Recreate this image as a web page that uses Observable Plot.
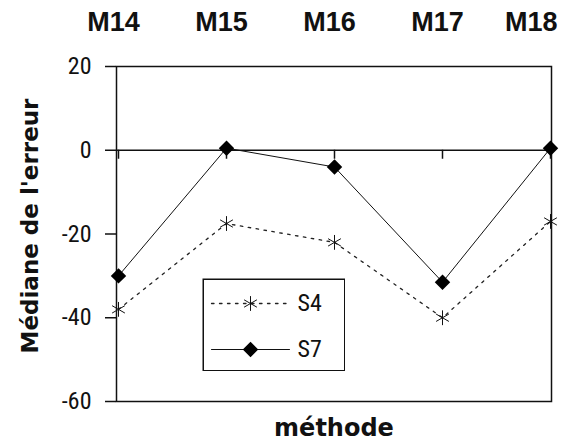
<!DOCTYPE html>
<html><head><meta charset="utf-8">
<script src="https://cdn.jsdelivr.net/npm/d3@7"></script>
<script src="https://cdn.jsdelivr.net/npm/@observablehq/plot@0.6"></script>
<style>
body{margin:0;background:#fff;}
#wrap{position:relative;width:564px;height:446px;overflow:hidden;background:#fff;}
#legend{position:absolute;left:202px;top:278px;}
svg{display:block;}
</style></head><body><div id="wrap"></div>
<script>
const methods = ["M14", "M15", "M16", "M17", "M18"];
const s4 = [-38, -17.5, -22, -40, -17];
const s7 = [-30, 0.5, -4, -31.5, 0.5];
const yTicks = [20, 0, -20, -40, -60];
const seriesNames = ["S4", "S7"];
const yTitle = "Médiane de l'erreur";
const xTitle = "méthode";

const rowsS4 = methods.map((m, i) => ({m, v: s4[i], s: "S4"}));
const rowsS7 = methods.map((m, i) => ({m, v: s7[i], s: "S7"}));

const narrow = "'Liberation Sans Narrow','Arial Narrow','Roboto Condensed','Liberation Sans',Arial,sans-serif";
const bold = "'Liberation Sans',Arial,sans-serif";
const wrap = document.getElementById("wrap");

const main = Plot.plot({
  width: 564, height: 446,
  marginTop: 66, marginBottom: 45, marginLeft: 116, marginRight: 13,
  style: {fontFamily: narrow, background: "#fff", color: "#111"},
  x: {type: "point", domain: methods, padding: 0, axis: null},
  y: {domain: [-60, 20], axis: null},
  marks: [
    Plot.axisY({ticks: yTicks, tickSize: 11, tickPadding: 14, label: null, fontSize: 24, strokeWidth: 1.5, tickFormat: d => String(d)}),
    Plot.ruleY([0], {strokeWidth: 1.5, stroke: "#111"}),
    Plot.ruleX(methods, {x: d => d, y1: 0, y2: 0, insetBottom: -9, strokeWidth: 1.5, stroke: "#111"}),
    Plot.frame({strokeWidth: 1.5, stroke: "#111"}),
    Plot.line(rowsS4, {x: "m", y: "v", stroke: "#222", strokeWidth: 1.3, strokeDasharray: "2.5,5.5"}),
    Plot.line(rowsS7, {x: "m", y: "v", stroke: "#111", strokeWidth: 1}),
    Plot.dot(rowsS4, {x: "m", y: "v", symbol: "asterisk", r: 7, stroke: "#111", strokeWidth: 1}),
    Plot.dot(rowsS7, {x: "m", y: "v", symbol: "diamond2", r: 6, fill: "#000", stroke: "#000"}),
    Plot.text(methods.slice(0, 4), {x: d => d, frameAnchor: "top", lineAnchor: "middle", dy: -44, dx: -5, fontSize: 27, fontWeight: "bold", fontFamily: bold, fill: "#111"}),
    Plot.text(methods.slice(4), {x: d => d, frameAnchor: "top", lineAnchor: "middle", textAnchor: "end", dy: -44, dx: 7, fontSize: 27, fontWeight: "bold", fontFamily: bold, fill: "#111"}),
    Plot.text([yTitle], {frameAnchor: "left", textAnchor: "middle", rotate: -90, dx: -86, dy: -8, fontSize: 23, fontWeight: "bold", fontFamily: "'DejaVu Sans',Verdana,sans-serif", fill: "#111"}),
    Plot.text([xTitle], {frameAnchor: "bottom", textAnchor: "middle", dy: 34, fontSize: 24, fontWeight: "bold", fontFamily: "'DejaVu Sans',Verdana,sans-serif", fill: "#111"})
  ]
});
wrap.appendChild(main);

const legS4 = [{s: "S4", x: 0}, {s: "S4", x: 1}];
const legS7 = [{s: "S7", x: 0}, {s: "S7", x: 1}];
const legend = Plot.plot({
  width: 143, height: 93,
  marginTop: 25, marginBottom: 22, marginLeft: 9, marginRight: 56,
  style: {fontFamily: narrow, background: "#fff"},
  x: {domain: [0, 1], axis: null},
  y: {type: "point", domain: seriesNames, padding: 0, axis: null},
  marks: [
    Plot.frame({stroke: "#111", strokeWidth: 1.5, insetLeft: -8.25, insetRight: -55.25, insetTop: -24.25, insetBottom: -21.25}),
    Plot.line(legS4, {x: "x", y: "s", stroke: "#222", strokeWidth: 1.3, strokeDasharray: "2.5,5.5"}),
    Plot.line(legS7, {x: "x", y: "s", stroke: "#111", strokeWidth: 1}),
    Plot.dot(["S4"], {x: 0.5, y: d => d, symbol: "asterisk", r: 7, stroke: "#111", strokeWidth: 1}),
    Plot.dot(["S7"], {x: 0.5, y: d => d, symbol: "diamond2", r: 6, fill: "#000", stroke: "#000"}),
    Plot.text(seriesNames, {x: 1, y: d => d, dx: 8, textAnchor: "start", fontSize: 24, fill: "#111"})
  ]
});
legend.id = "legend";
wrap.appendChild(legend);
</script>
</body></html>
